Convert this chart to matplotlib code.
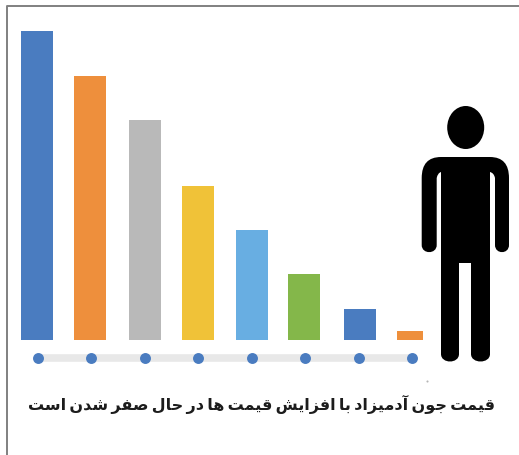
import matplotlib
matplotlib.use('Agg')
import matplotlib.pyplot as plt
from matplotlib.path import Path
from matplotlib.patches import PathPatch, Ellipse

# bar heights
values = [309, 264, 220, 154, 110, 66, 31, 9]
colors = ['#4a7cc0', '#ee8f3c', '#b9b9b9', '#f0c238', '#68aee2', '#84b74a', '#4a7cc0', '#ee8f3c']
title = 'قیمت جون آدمیزاد با افزایش قیمت ها در حال صفر شدن است'

# Persian shaping: isolated, final, initial, medial (matplotlib does not join letters)
forms = {
    'ا': '\ufe8d\ufe8e', 'آ': '\ufe81\ufe82', 'د': '\ufea9\ufeaa', 'ر': '\ufead\ufeae',
    'ز': '\ufeaf\ufeb0', 'و': '\ufeed\ufeee',
    'ب': '\ufe8f\ufe90\ufe91\ufe92', 'ت': '\ufe95\ufe96\ufe97\ufe98', 'ج': '\ufe9d\ufe9e\ufe9f\ufea0',
    'ح': '\ufea1\ufea2\ufea3\ufea4', 'س': '\ufeb1\ufeb2\ufeb3\ufeb4', 'ش': '\ufeb5\ufeb6\ufeb7\ufeb8',
    'ص': '\ufeb9\ufeba\ufebb\ufebc', 'ف': '\ufed1\ufed2\ufed3\ufed4', 'ق': '\ufed5\ufed6\ufed7\ufed8',
    'ل': '\ufedd\ufede\ufedf\ufee0', 'م': '\ufee1\ufee2\ufee3\ufee4', 'ن': '\ufee5\ufee6\ufee7\ufee8',
    'ه': '\ufee9\ufeea\ufeeb\ufeec', 'ی': '\ufbfc\ufbfd\ufbfe\ufbff',
}


def shape(text):
    out = []
    for i, c in enumerate(text):
        if c not in forms:
            out.append('\u2009' if c == ' ' else c)  # tight word gaps like the original
            continue
        prev_joins = i > 0 and text[i - 1] in forms and len(forms[text[i - 1]]) == 4
        next_joins = i + 1 < len(text) and text[i + 1] in forms and len(forms[c]) == 4
        idx = {(False, False): 0, (True, False): 1, (False, True): 2, (True, True): 3}[(prev_joins, next_joins)]
        out.append(forms[c][idx])
    return ''.join(reversed(out))


W, H = 519, 455
fig = plt.figure(figsize=(W / 100, H / 100), dpi=100)

# page layer in pixel coordinates
bg = fig.add_axes([0, 0, 1, 1])
bg.set_xlim(0, W)
bg.set_ylim(H, 0)
bg.axis('off')
bg.plot([6.5, 6.5, W], [H, 5.5, 5.5], color='#808080', lw=1.4)

# gray track behind the dots
bg.plot([38, 412], [358, 358], color='#e8e8e8', lw=5.5, solid_capstyle='butt')

# bars, x=0..7 maps to 38..412 px, y=0 at 340 px
ax = fig.add_axes([38 / W, (H - 340) / H, (412 - 38) / W, 340 / H])
ax.set_xlim(0, 7)
ax.set_ylim(0, 340)
ax.axis('off')
x = list(range(len(values)))
widths = [0.6] * 7 + [0.49]
nudge = [-0.02, -0.02, 0.01, 0, 0, -0.02, 0.02, -0.04]  # bars are not quite over their dots
x_bars = [i + n for i, n in zip(x, nudge)]
ax.bar(x_bars, values, width=widths, color=colors, clip_on=False)
ax.scatter(x, [-18] * len(x), s=62, color='#4a7cc0', linewidths=0, clip_on=False, zorder=3)

# person
bg.add_patch(Ellipse((465.7, 127.5), 37, 43, color='black', lw=0))
verts = [
    (421.7, 245), (421.7, 178), (421.7, 157), (441, 157), (490, 157),
    (509, 157), (509, 178), (509, 245),
    (509, 254.5), (495, 254.5), (495, 245),
    (495, 178), (494, 173), (490, 172), (490, 354),
    (490, 364), (471, 364), (471, 354),
    (471, 263), (459, 263), (459, 354),
    (459, 364), (441, 364), (441, 354),
    (441, 172), (437.7, 173), (436.7, 178), (436.7, 245),
    (436.7, 254.5), (421.7, 254.5), (421.7, 245),
]
L, C3, C4 = Path.LINETO, Path.CURVE3, Path.CURVE4
codes = [Path.MOVETO, L, C3, C3, L, C3, C3, L, C4, C4, C4, L, C3, C3, L, C4, C4, C4,
         L, L, L, C4, C4, C4, L, C3, C3, L, C4, C4, C4]
bg.add_patch(PathPatch(Path(verts, codes), facecolor='black', lw=0))

# stray speck under the chart
bg.plot([427], [381], marker='o', ms=1.5, color='#b5b5b5', mew=0)

bg.text(261.5, 404, shape(title), family='DejaVu Sans', weight='bold', fontsize=11.5,
        ha='center', va='center', color='#1c1c1c')

fig.savefig('out.png', dpi=100)
